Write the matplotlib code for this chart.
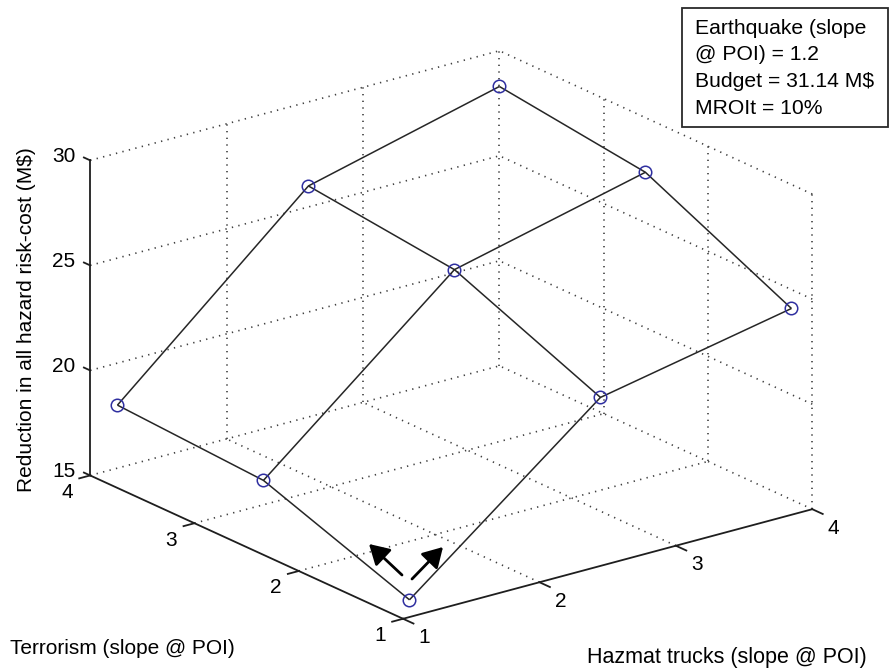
import numpy as np
import matplotlib
matplotlib.use("Agg")
import matplotlib.pyplot as plt
from matplotlib.patches import Rectangle
from mpl_toolkits.mplot3d import proj3d

plt.rcParams['font.family'] = ['Liberation Sans', 'DejaVu Sans']

# Slopes at the point of interest (grid of the response surface)
hazmat = [1.2, 2.6, 4.0]
terrorism = [1.2, 2.6, 4.0]
# Reduction in all-hazard risk-cost (M$); rows follow terrorism, columns hazmat
reduction = [
    [15.1, 22.3, 24.1],
    [17.6, 25.2, 27.4],
    [18.0, 26.0, 28.3],
]
x_ticks = [1, 2, 3, 4]
y_ticks = [1, 2, 3, 4]
z_ticks = [15, 20, 25, 30]
x_label = 'Hazmat trucks (slope @ POI)'
y_label = 'Terrorism (slope @ POI)'
z_label = 'Reduction in all hazard risk-cost (M$)'
info_lines = ['Earthquake (slope', '@ POI) = 1.2', 'Budget = 31.14 M$', 'MROIt = 10%']

W, H = 891, 672
fig = plt.figure(figsize=(W / 100, H / 100), dpi=100)
S = 779
cx, cy = 440.7, 326.7
ax = fig.add_axes([(cx - S / 2) / W, (cy - S / 2) / H, S / W, S / H],
                  projection='3d', proj_type='ortho', computed_zorder=False)
ax.set_axis_off()

x0, x1 = x_ticks[0], x_ticks[-1]
y0, y1 = y_ticks[0], y_ticks[-1]
z0, z1 = z_ticks[0], z_ticks[-1]

# dotted grid on the two back walls and the floor
dot = dict(color='#404040', lw=1.2, ls=(0, (0.8, 3.2)), zorder=1)
for xv in x_ticks[1:]:
    ax.plot([xv, xv], [y1, y1], [z0, z1], **dot)
    ax.plot([xv, xv], [y0, y1], [z0, z0], **dot)
for yv in y_ticks[:-1]:
    ax.plot([x1, x1], [yv, yv], [z0, z1], **dot)
for yv in y_ticks[1:]:
    ax.plot([x0, x1], [yv, yv], [z0, z0], **dot)
for zv in z_ticks[1:]:
    ax.plot([x0, x1], [y1, y1], [zv, zv], **dot)
    ax.plot([x1, x1], [y0, y1], [zv, zv], **dot)

# axis lines and tick marks
axl = dict(color='#1e1e1e', lw=1.3, zorder=2)
ax.plot([x0, x0], [y0, y1], [z0, z0], **axl)
ax.plot([x0, x1], [y0, y0], [z0, z0], **axl)
ax.plot([x0, x0], [y1, y1], [z0, z1], **axl)
for yv in y_ticks:
    ax.plot([x0, x0 - 0.08], [yv, yv], [z0, z0], **axl)
for xv in x_ticks:
    ax.plot([xv, xv], [y0, y0 - 0.1], [z0, z0], **axl)
for zv in z_ticks:
    ax.plot([x0, x0], [y1, y1 + 0.06], [zv, zv], **axl)

# mesh of the response surface
Xg, Yg = np.meshgrid(hazmat, terrorism)
Zg = np.array(reduction)
ax.plot_wireframe(Xg, Yg, Zg, color='#262626', lw=1.1, zorder=3)
ax.plot(Xg.ravel(), Yg.ravel(), Zg.ravel(), ls='none', marker='o', ms=9,
        mfc='none', mec='#2f2fa0', mew=1.1, zorder=4)

ax.set_xlim(x0, x1)
ax.set_ylim(y0, y1)
ax.set_zlim(z0, z1)
ax.set_box_aspect((1, 1, 0.653))
ax.view_init(elev=20.5, azim=-127.4)

fs = 15
fig.canvas.draw()


def fig_frac(x, y, z, dx, dy):
    """Projected position of a 3D point, shifted by (dx, dy) pixels, in figure fraction."""
    xs, ys, _ = proj3d.proj_transform(x, y, z, ax.M)
    px, py = ax.transData.transform((xs, ys))
    return fig.transFigure.inverted().transform((px + dx, py + dy))


# tick labels sit just outside their axis lines
for yv in y_ticks:
    fx, fy = fig_frac(x0, yv, z0, -23, -17)
    fig.text(fx, fy, str(yv), ha='center', va='center', fontsize=fs)
for xv in x_ticks:
    fx, fy = fig_frac(xv, y0, z0, 21, -19)
    fig.text(fx, fy, str(xv), ha='center', va='center', fontsize=fs)
for zv in z_ticks:
    fx, fy = fig_frac(x0, y1, zv, -15, 4)
    fig.text(fx, fy, str(zv), ha='right', va='center', fontsize=fs)

fig.text(27 / W, 1 - 320 / H, z_label, rotation=90, ha='center', va='center',
         fontsize=fs, parse_math=False)
fig.text(10 / W, 1 - 648 / H, y_label, ha='left', va='center', fontsize=fs, parse_math=False)
fig.text(587 / W, 1 - 657 / H, x_label, ha='left', va='center', fontsize=15.5, parse_math=False)

# annotation box
fig.patches.append(Rectangle((682 / W, 1 - 127 / H), 206 / W, 119 / H, transform=fig.transFigure,
                             facecolor='white', edgecolor='#2a2a2a', lw=1.3, zorder=5))
for i, line in enumerate(info_lines):
    fig.text(695 / W, 1 - (34 + 26.5 * i) / H, line, ha='left', va='baseline',
             fontsize=15.2, parse_math=False, zorder=6)

# arrows near the front corner
for tail, head in [((402, 575), (369, 544)), ((412, 579), (443, 547))]:
    ax.annotate('', xy=(head[0], H - head[1]), xytext=(tail[0], H - tail[1]),
                xycoords='figure pixels', textcoords='figure pixels', annotation_clip=False,
                arrowprops=dict(arrowstyle='-|>,head_length=0.6,head_width=0.35', color='black',
                                lw=2, mutation_scale=20, shrinkA=0, shrinkB=0))

fig.savefig('out.png', dpi=100)
